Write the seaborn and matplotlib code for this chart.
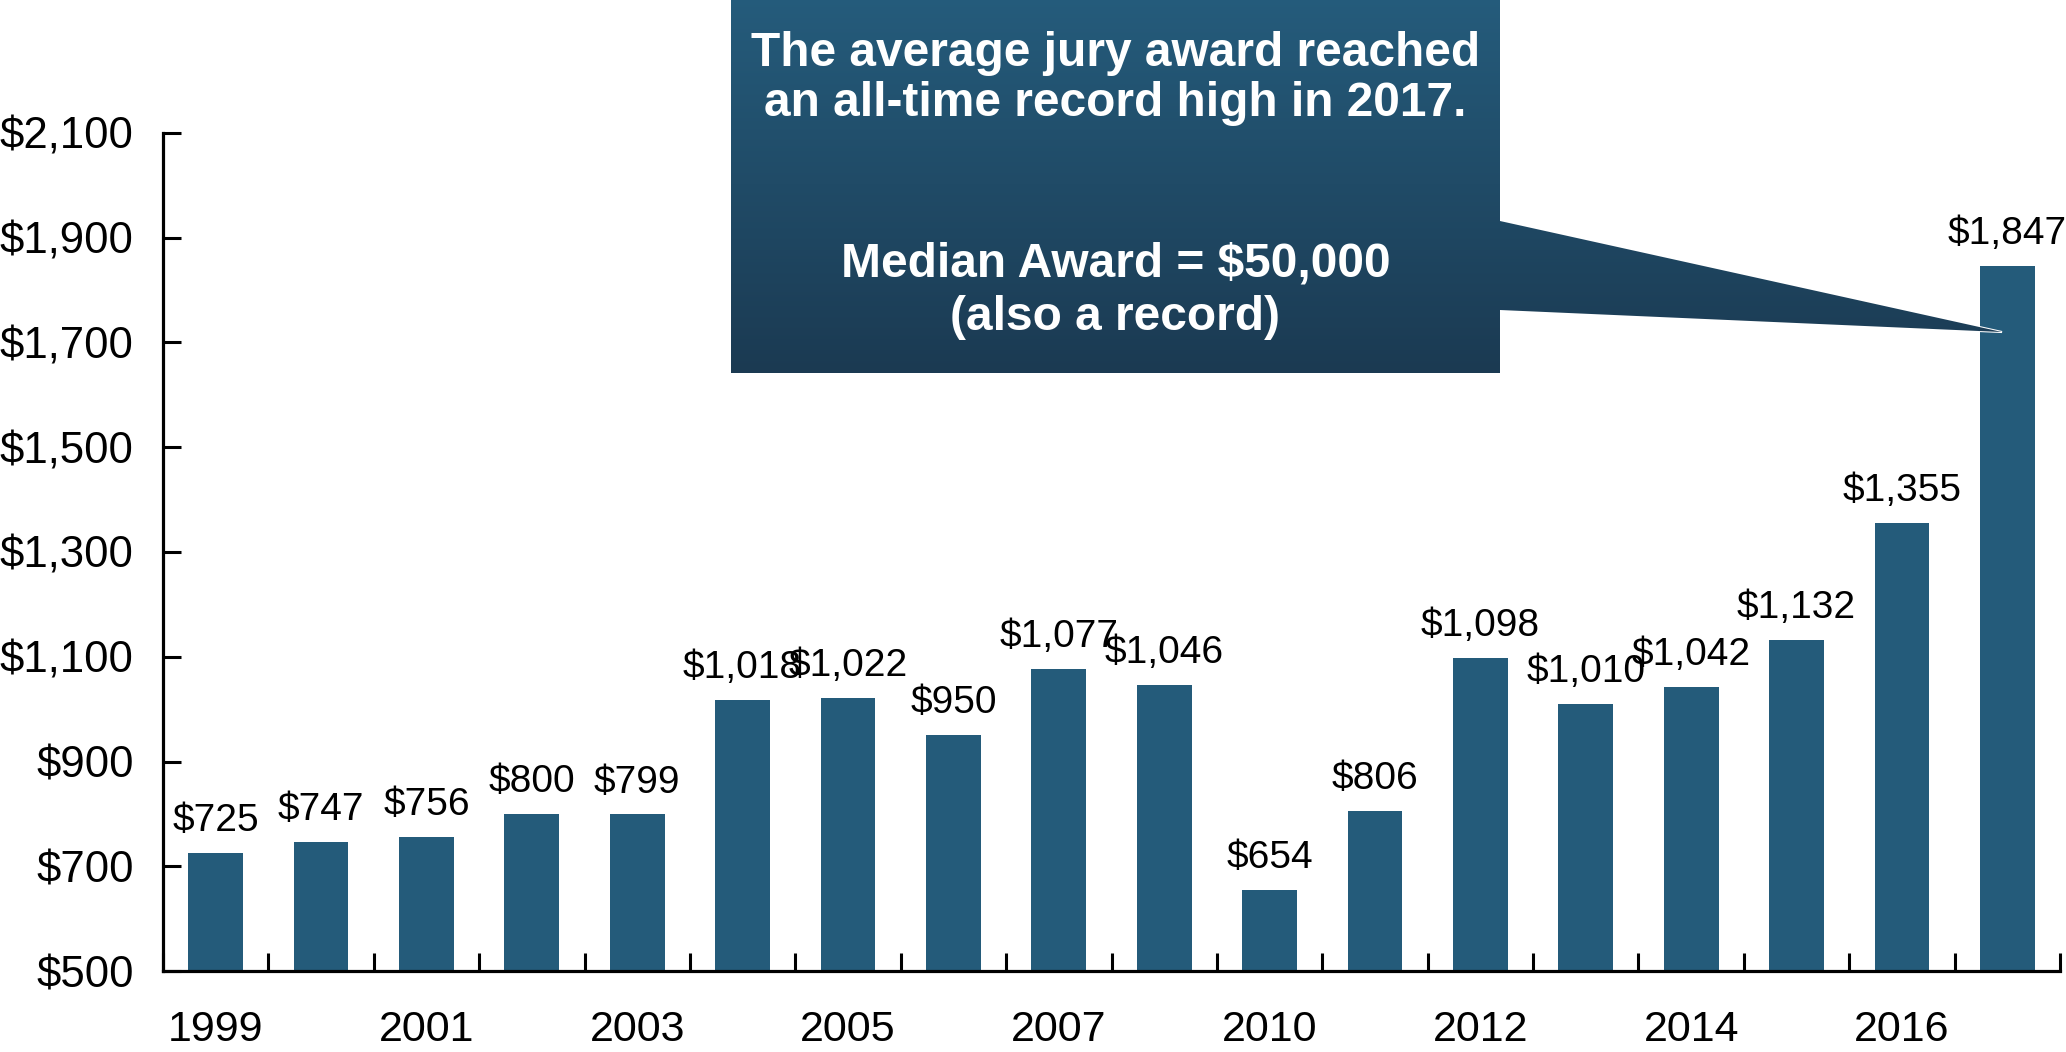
import numpy as np
import pandas as pd
import matplotlib
matplotlib.use("Agg")
import matplotlib.pyplot as plt
import seaborn as sns
from matplotlib.patches import Polygon
from matplotlib.colors import LinearSegmentedColormap

# ---- data ----
years = ["1999", "2000", "2001", "2002", "2003", "2004", "2005", "2006", "2007",
         "2008", "2010", "2011", "2012", "2013", "2014", "2015", "2016", "2017"]
awards = [725, 747, 756, 800, 799, 1018, 1022, 950, 1077, 1046,
          654, 806, 1098, 1010, 1042, 1132, 1355, 1847]
tick_years = ["1999", "2001", "2003", "2005", "2007", "2010", "2012", "2014", "2016"]
y_ticks = [500, 700, 900, 1100, 1300, 1500, 1700, 1900, 2100]
callout_top = ["The average jury award reached", "an all-time record high in 2017."]
callout_bottom = ["Median Award = $50,000", "(also a record)"]
highlight_year = "2017"
highlight_value = 1720

BAR_COLOR = "#245B7A"

sns.set_theme(style="white")
plt.rcParams["font.family"] = ["Liberation Sans", "DejaVu Sans"]

W, H = 2066, 1052
fig = plt.figure(figsize=(W / 100, H / 100), dpi=100)
fig.patch.set_facecolor("white")
ax = fig.add_axes([163 / W, 1 - 971 / H, (2060 - 163) / W, (971 - 133) / H])

df = pd.DataFrame({"year": years, "award": awards})
sns.barplot(data=df, x="year", y="award", order=years, color=BAR_COLOR,
            saturation=1, width=0.52, linewidth=0, ax=ax)

ax.set_xlim(-0.5, len(years) - 0.5)
ax.set_ylim(y_ticks[0], y_ticks[-1])
ax.set_xlabel("")
ax.set_ylabel("")

ax.bar_label(ax.containers[0], labels=[f"${v:,}" for v in awards],
             padding=10, fontsize=28, color="black")

# y axis
ax.set_yticks(y_ticks)
ax.set_yticklabels([f"${v:,}" for v in y_ticks])
ax.tick_params(axis="y", direction="in", length=13, width=2.2, pad=21,
               labelsize=31.5, colors="black", left=True)

# x axis: ticks at boundaries, labels at every other bar
ax.set_xticks(np.arange(-0.5, len(years), 1.0))
ax.set_xticklabels([])
ax.set_xticks([years.index(y) for y in tick_years], minor=True)
ax.set_xticklabels(tick_years, minor=True)
ax.tick_params(axis="x", which="major", direction="in", length=13, width=2.2,
               colors="black", bottom=True)
ax.tick_params(axis="x", which="minor", length=0, pad=28, labelsize=31,
               colors="black", bottom=True)

for s in ["top", "right"]:
    ax.spines[s].set_visible(False)
for s in ["left", "bottom"]:
    ax.spines[s].set_color("black")
    ax.spines[s].set_linewidth(2.3)
ax.grid(False)

# ---- callout overlay (pixel coordinates) ----
ov = fig.add_axes([0, 0, 1, 1], zorder=5)
ov.set_xlim(0, W)
ov.set_ylim(H, 0)
ov.axis("off")
ov.patch.set_visible(False)

fig.canvas.draw()
tip_disp = ax.transData.transform((years.index(highlight_year) - 0.05, highlight_value))
tip = ov.transData.inverted().transform(tip_disp)

bx0, bx1, by0, by1 = 731, 1500, -5, 373
verts = [(bx0, by0), (bx1, by0), (bx1, 221), (tip[0], tip[1]), (bx1, 310),
         (bx1, by1), (bx0, by1)]
poly = Polygon(verts, closed=True, facecolor="none", edgecolor="white", lw=1.5)
ov.add_patch(poly)
cmap = LinearSegmentedColormap.from_list("g", ["#255C7C", "#1B3A52"])
grad = np.linspace(0, 1, 256).reshape(-1, 1)
im = ov.imshow(grad, cmap=cmap, extent=(bx0, tip[0] + 10, by1, by0),
               origin="upper", aspect="auto", zorder=1)
im.set_clip_path(poly)
ov.set_xlim(0, W)
ov.set_ylim(H, 0)

cx = (bx0 + bx1) / 2
for txt, yy in zip(callout_top + callout_bottom, [54, 104, 264, 318]):
    ov.text(cx, yy, txt, color="white", fontsize=34.5, fontweight="bold",
            ha="center", va="center", zorder=3)

fig.savefig("out.png", dpi=100, facecolor="white")
